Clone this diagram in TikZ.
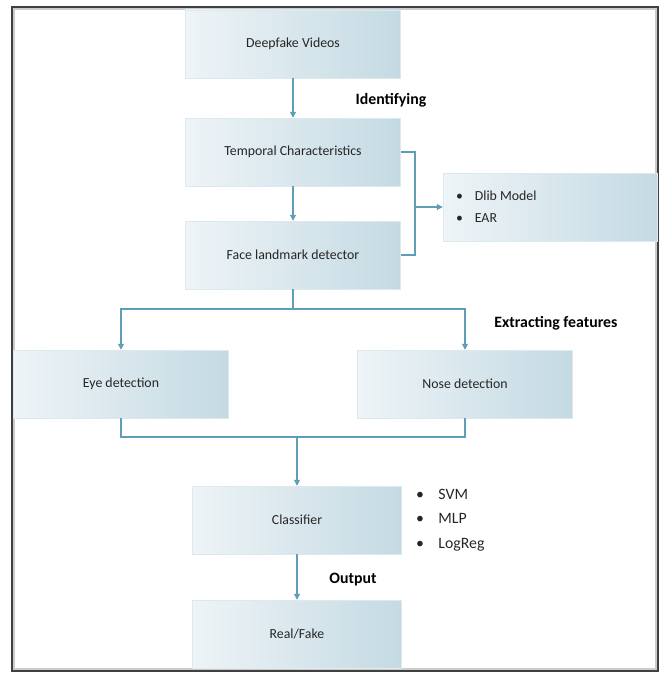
\documentclass[tikz,border=0pt]{standalone}
\usepackage{fontspec}
\setmainfont{Carlito}
\usepackage{xcolor}
\usepackage{tikz}
\usetikzlibrary{calc,positioning,arrows.meta}

\definecolor{boxlight}{RGB}{238,244,247}
\definecolor{boxdark}{RGB}{196,218,227}
\definecolor{boxline}{RGB}{222,233,238}
\definecolor{flowline}{RGB}{96,158,184}

\begin{document}
\begin{tikzpicture}[
    x=0.03cm, y=-0.03cm,
    stagebox/.style={rectangle, draw=boxline, left color=boxlight, right color=boxdark, minimum width=6.45cm, minimum height=2.04cm, align=center, font=\fontsize{11.8}{13}\selectfont, text=black!85},
    listbox/.style={rectangle, draw=boxline, left color=boxlight, right color=boxdark, minimum width=6.42cm, minimum height=2.04cm, align=left, font=\fontsize{11.5}{14}\selectfont, text=black!85},
    caption/.style={font=\fontsize{13.5}{16}\selectfont\bfseries, text=black},
    arrow/.style={-{Triangle[length=5pt,width=5pt]}, draw=flowline, line width=0.9pt},
    link/.style={draw=flowline, line width=0.9pt}
]
    \useasboundingbox (0,0) rectangle (661,673);
    % outer frame
    \draw[black!20, line width=1pt] (14,9) rectangle (656,669);
    \draw[black!75, line width=1.1pt] (12,7) rectangle (658,671);

    \node[stagebox] (videos) at (293,44) {Deepfake Videos};
    \node[stagebox] (temporal) at (293,152) {Temporal Characteristics};
    \node[stagebox] (landmark) at (293,255) {Face landmark detector};
    \node[listbox] (dlib) at (550,207) {};
    \node[anchor=west, font=\fontsize{11.8}{18.5}\selectfont, text=black!85, align=left] (dliblist) at (452,207)
        {\makebox[16pt][l]{\textbullet}Dlib Model\\\makebox[16pt][l]{\textbullet}EAR};

    \node[stagebox] (eye) at (121,384) {Eye detection};
    \node[stagebox] (nose) at (465,384) {Nose detection};

    \node[stagebox, minimum width=6.27cm] (classifier) at (297,520) {Classifier};
    \node[anchor=west, font=\fontsize{13.5}{21}\selectfont, text=black!85, align=left] (models) at (412,520)
        {\makebox[19pt][l]{\textbullet}SVM\\\makebox[19pt][l]{\textbullet}MLP\\\makebox[19pt][l]{\textbullet}LogReg};
    \node[stagebox, minimum width=6.27cm] (result) at (297,634) {Real/Fake};

    \node[caption] (identify) at (391,100) {Identifying};
    \node[caption] (extract) at (556,323) {Extracting features};
    \node[caption] (output) at (353,580) {Output};

    \coordinate (bend) at (415,207);
    \coordinate (split) at (293,309);
    \coordinate (merge) at (297,437);

    \draw[arrow] (videos) -- (temporal);
    \draw[arrow] (temporal) -- (landmark);
    \draw[link] (temporal.east) -| (bend) |- (landmark.east);
    \draw[arrow] (bend) -- (dlib.west);

    \draw[link] (landmark.south) -- (split);
    \draw[arrow] (split) -| (eye.north);
    \draw[arrow] (split) -| (nose.north);

    \draw[link] (eye.south) |- (merge);
    \draw[link] (nose.south) |- (merge);
    \draw[arrow] (merge) -- (classifier);
    \draw[arrow] (classifier) -- (result);
\end{tikzpicture}
\end{document}
